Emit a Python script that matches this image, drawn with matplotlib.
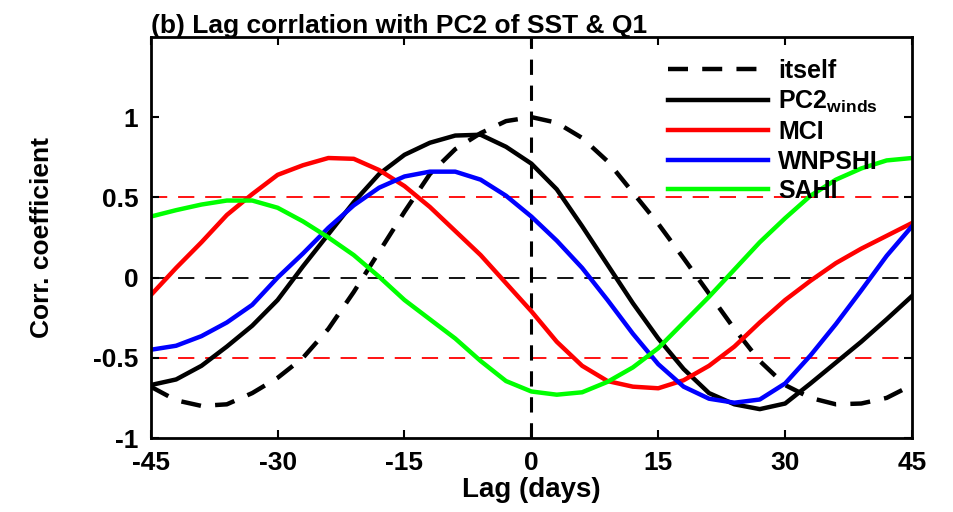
import matplotlib
matplotlib.use("Agg")
import matplotlib.pyplot as plt

plt.rcParams['font.family'] = ['Liberation Sans', 'DejaVu Sans']
plt.rcParams['font.weight'] = 'bold'
plt.rcParams['mathtext.fontset'] = 'custom'
plt.rcParams['mathtext.rm'] = 'Liberation Sans:bold'
plt.rcParams['mathtext.bf'] = 'Liberation Sans:bold'
plt.rcParams['mathtext.it'] = 'Liberation Sans:bold'

# lag in days
lags = [-45, -42, -39, -36, -33, -30, -27, -24, -21, -18, -15, -12, -9, -6, -3, 0,
        3, 6, 9, 12, 15, 18, 21, 24, 27, 30, 33, 36, 39, 42, 45]

itself = [-0.68, -0.765, -0.80, -0.79, -0.72, -0.625, -0.50, -0.32, -0.09, 0.16, 0.41,
          0.645, 0.80, 0.90, 0.975, 1.0, 0.965, 0.87, 0.725, 0.53, 0.335, 0.12, -0.10,
          -0.32, -0.52, -0.67, -0.75, -0.79, -0.785, -0.75, -0.67]
pc2_winds = [-0.67, -0.635, -0.55, -0.43, -0.30, -0.14, 0.07, 0.27, 0.47, 0.645, 0.765,
             0.84, 0.885, 0.89, 0.815, 0.71, 0.55, 0.32, 0.08, -0.16, -0.38, -0.57, -0.72,
             -0.79, -0.82, -0.785, -0.66, -0.53, -0.40, -0.26, -0.115]
mci = [-0.11, 0.06, 0.22, 0.39, 0.52, 0.64, 0.70, 0.745, 0.74, 0.67, 0.57, 0.44, 0.29,
       0.14, -0.035, -0.21, -0.40, -0.55, -0.645, -0.68, -0.69, -0.64, -0.55, -0.43,
       -0.28, -0.14, -0.02, 0.09, 0.18, 0.26, 0.34]
wnpshi = [-0.45, -0.425, -0.365, -0.28, -0.17, 0.00, 0.15, 0.31, 0.45, 0.56, 0.63, 0.66,
          0.66, 0.61, 0.51, 0.38, 0.23, 0.06, -0.14, -0.35, -0.54, -0.68, -0.755, -0.78,
          -0.76, -0.66, -0.485, -0.29, -0.08, 0.135, 0.32]
sahi = [0.38, 0.42, 0.455, 0.48, 0.48, 0.435, 0.35, 0.25, 0.14, 0.005, -0.14, -0.26,
        -0.38, -0.52, -0.645, -0.71, -0.73, -0.715, -0.65, -0.56, -0.44, -0.28, -0.12,
        0.05, 0.22, 0.37, 0.51, 0.61, 0.68, 0.73, 0.745]

xticks = [-45, -30, -15, 0, 15, 30, 45]
yticks = [-1, -0.5, 0, 0.5, 1]
ytick_labels = ['-1', '-0.5', '0', '0.5', '1']

fig = plt.figure(figsize=(9.54, 5.12), dpi=100)
ax = fig.add_axes([0.158, 0.1445, 0.798, 0.7835])

# reference lines
ax.axhline(0.5, color='red', lw=1.3, dashes=(9, 6), zorder=1)
ax.axhline(-0.5, color='red', lw=1.3, dashes=(9, 6), zorder=1)
ax.axhline(0, color='black', lw=1.3, dashes=(9, 6), zorder=1)
ax.axvline(0, color='black', lw=2.2, dashes=(5, 3.5), zorder=1)

ax.plot(lags, itself, color='black', lw=3.2, dashes=(4.5, 3.2), label='itself')
ax.plot(lags, pc2_winds, color='black', lw=3.2, label=r'PC2$_{\mathbf{winds}}$')
ax.plot(lags, mci, color='#ff0000', lw=3.2, label='MCI')
ax.plot(lags, wnpshi, color='#0000ff', lw=3.2, label='WNPSHI')
ax.plot(lags, sahi, color='#00ff00', lw=3.2, label='SAHI')

ax.set_xlim(-45, 45)
ax.set_ylim(-1, 1.5)
ax.set_xticks(xticks)
ax.set_xticklabels([str(t) for t in xticks])
ax.set_yticks(yticks)
ax.set_yticklabels(ytick_labels)
ax.tick_params(direction='in', length=6, width=1.5, top=True, right=True,
               labelsize=19, pad=9)
for s in ax.spines.values():
    s.set_linewidth(2)

ax.set_xlabel('Lag (days)', fontsize=20, fontweight='bold', labelpad=2)
ax.set_ylabel('Corr. coefficient', fontsize=19, fontweight='bold', labelpad=28)
ax.set_title('(b) Lag corrlation with PC2 of SST & Q1', loc='left', fontsize=19,
             fontweight='bold', pad=3)

leg = ax.legend(loc='upper left', bbox_to_anchor=(0.68, 0.945), frameon=False,
                fontsize=18, handlelength=4.0, handletextpad=0.4, labelspacing=0.22,
                borderaxespad=0, borderpad=0)

fig.savefig('out.png', dpi=100)
